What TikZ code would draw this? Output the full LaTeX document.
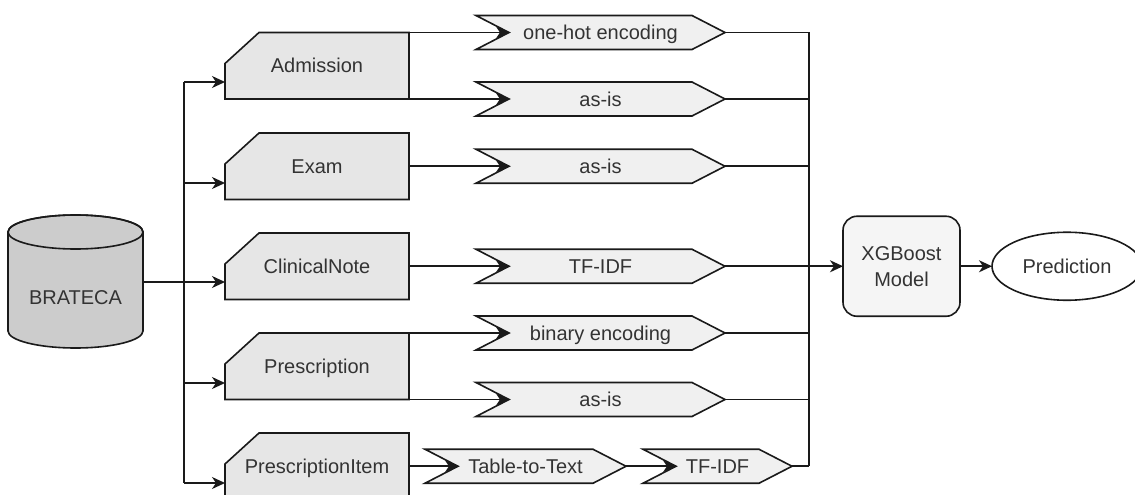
\documentclass[tikz,border=0pt]{standalone}
\usepackage{fontspec}
\setmainfont{Liberation Sans}
\usetikzlibrary{arrows.meta,calc,shapes.geometric}
\definecolor{cardfill}{HTML}{E6E6E6}
\definecolor{chevfill}{HTML}{F0F0F0}
\definecolor{cylfill}{HTML}{CCCCCC}
\definecolor{boxfill}{HTML}{F5F5F5}
\definecolor{txtgray}{HTML}{333333}
\definecolor{linecol}{HTML}{1A1A1A}
\tikzset{
  x=1pt, y=-1pt,
  conn/.style={draw=linecol, line width=1.6pt},
  arr/.style={conn, -{Stealth[length=13pt,width=12pt,inset=4pt]}},
  shapeline/.style={draw=linecol, line width=1.6pt, line join=miter},
  txt/.style={font=\fontsize{20}{27}\selectfont, text=txtgray, inner sep=0pt, outer sep=0pt,
              text height=16.5pt, text depth=2.2pt},
}
% card: name, center x, top y, text
\newcommand\mycard[4]{%
  \draw[shapeline, fill=cardfill] (#2-92,#3+66.5) -- (#2+92,#3+66.5) -- (#2+92,#3) -- (#2-58,#3) -- (#2-92,#3+31) -- cycle;
  \node[txt, minimum width=184pt, minimum height=66.5pt] (#1) at (#2,#3+33.25) {#4};
}
% chevron: name, left x, right x, center y, text
\newcommand\mychev[5]{%
  \draw[shapeline, fill=chevfill] (#2,#4-17) -- (#3-33,#4-17) -- (#3,#4) -- (#3-33,#4+17) -- (#2,#4+17) -- (#2+33,#4) -- cycle;
  \coordinate (#1in) at (#2+33,#4);
  \coordinate (#1out) at (#3,#4);
  \node[txt] (#1) at ({(#2+#3)/2},#4) {#5};
}
\begin{document}
\begin{tikzpicture}
\useasboundingbox (0,0) rectangle (1135,495);
\fill[white] (0,0) rectangle (1135,495);
\clip (0,0) rectangle (1135,495);

% BRATECA cylinder
\draw[shapeline, fill=cylfill] (8,232) -- (8,331) arc[start angle=180, end angle=0, x radius=67.5, y radius=17]
  -- (143,232) arc[start angle=0, end angle=-180, x radius=67.5, y radius=17] -- cycle;
\draw[shapeline] (75.5,232) ellipse[x radius=67.5, y radius=17];
\node[minimum width=135pt, minimum height=133pt, inner sep=0pt, outer sep=0pt] (brateca) at (75.5,281.5) {};
\node[txt] (bratecalabel) at (75.5,297) {BRATECA};

% tables
\mycard{adm}{317}{32.5}{Admission}
\mycard{exam}{317}{133}{Exam}
\mycard{clin}{317}{233}{ClinicalNote}
\mycard{presc}{317}{333}{Prescription}
\mycard{pitem}{317}{433}{PrescriptionItem}

% chevrons
\mychev{ca}{476}{725}{32.5}{one-hot encoding}
\mychev{cb}{476}{725}{99}{as-is}
\mychev{cc}{476}{725}{166.25}{as-is}
\mychev{cd}{476}{725}{266.25}{TF-IDF}
\mychev{ce}{476}{725}{333}{binary encoding}
\mychev{cf}{476}{725}{399.5}{as-is}
\mychev{cg}{425}{626}{466.25}{Table-to-Text}
\mychev{ch}{643}{792}{466.25}{TF-IDF}

% model and prediction
\node[draw=linecol, line width=1.6pt, rounded corners=14pt, fill=boxfill, minimum width=117pt, minimum height=100pt,
      inner sep=0pt, outer sep=0pt, align=center, font=\fontsize{20}{26}\selectfont, text=txtgray] (xgb) at (901.5,266.25) {XGBoost\\Model};
\node[ellipse, draw=linecol, line width=1.6pt, fill=white, minimum width=150pt, minimum height=68pt, inner sep=0pt, outer sep=0pt,
      font=\fontsize{20}{27}\selectfont, text=txtgray, text height=16.5pt, text depth=2.2pt] (pred) at (1067,266.25) {Prediction};

% left bus
\coordinate (b1) at (184,82);
\coordinate (b2) at (184,183);
\coordinate (b3) at (184,282);
\coordinate (b4) at (184,383);
\coordinate (b5) at (184,483);
\draw[conn] (b1) -- (b5);
\draw[arr] (b1) -- (b1 -| adm.west);
\draw[arr] (b2) -- (b2 -| exam.west);
\draw[arr] (brateca.east |- b3) -- (b3 -| clin.west);
\draw[arr] (b4) -- (b4 -| presc.west);
\draw[arr] (b5) -- (b5 -| pitem.west);

% table to encodings
\draw[arr] (adm.north east) -- (cain);
\draw[arr] (adm.south east) -- (cbin);
\draw[arr] (exam.east) -- (ccin);
\draw[arr] (clin.east) -- (cdin);
\draw[arr] (presc.north east) -- (cein);
\draw[arr] (presc.south east) -- (cfin);
\draw[arr] (pitem.east) -- (cgin);
\draw[arr] (cgout) -- (chin);

% right bus
\coordinate (rtop) at (809,32.5);
\coordinate (rbot) at (809,466.25);
\draw[conn] (rtop) -- (rbot);
\draw[conn] (caout) -- (caout -| rtop);
\draw[conn] (cbout) -- (cbout -| rtop);
\draw[conn] (ccout) -- (ccout -| rtop);
\draw[conn] (ceout) -- (ceout -| rtop);
\draw[conn] (cfout) -- (cfout -| rtop);
\draw[conn] (chout) -- (chout -| rtop);
\draw[arr] (cdout) -- (xgb.west);
\draw[arr] (xgb.east) -- (pred.west);
\end{tikzpicture}
\end{document}
